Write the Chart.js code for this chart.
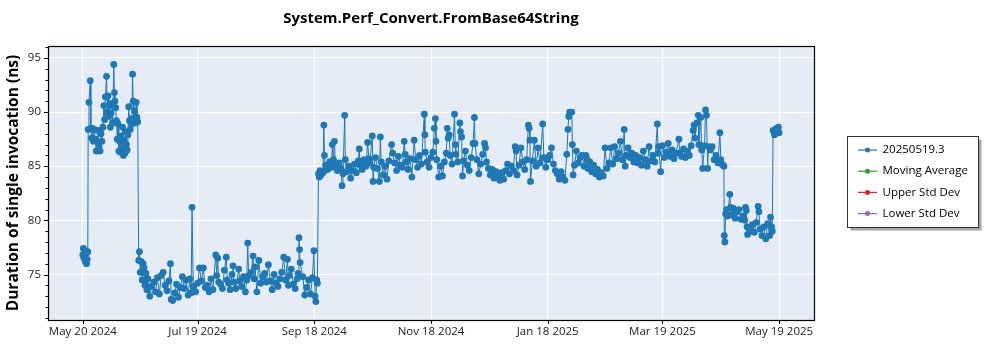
<!DOCTYPE html>
<html>
<head>
<meta charset="utf-8">
<script src="https://cdn.jsdelivr.net/npm/chart.js@4.4.0/dist/chart.umd.min.js"></script>
<style>
  body { margin: 0; background: #fff; }
</style>
</head>
<body>
<canvas id="perfChart" width="1000" height="350"></canvas>
<script>
// Run data: days since May 20 2024, and measured duration (ns)
const startDate = '2024-05-20';
const runDays = [
    // late May
    0, 0.3, 0.6, 1, 1.3, 1.6, 2, 2.3, 2.6,
    2.8, 3.2, 3.9, 4.2, 4.6, 5, 5.5, 6, 6.5, 7,
    7.5, 8, 8.5, 9, 9.5, 10, 10.5, 11, 11.4, 11.8,
    12.4, 12.8, 13.2, 13.6, 14, 14.4, 14.8, 15.2, 15.6, 16.2,
    16.5, 16.8, 17.2, 17.6, 18, 18.4, 18.8, 19.2, 19.6, 20,
    20.4, 20.8, 21.2, 21.6, 22, 22.4, 22.8, 23.2, 23.6, 24,
    24.4, 24.8, 25.2, 25.6, 26, 26.3, 26.7, 27.1, 27.5, 27.9,
    28.3, 28.7,
    // summer, low plateau
    29.2, 29.6, 30, 30.5, 31, 31.5, 32, 32.5, 33, 33.5,
    34, 35, 36, 37, 38, 39, 40, 41, 42, 43,
    44, 45, 45.8, 46.2, 47, 48, 49, 50, 51, 52,
    53, 54, 55, 56, 56.6, 57.1, 57.7, 59, 60, 61,
    62, 63, 64, 65, 66, 67, 68, 69.5, 70, 70.5,
    71, 72, 73, 74, 75, 75.5, 76.2, 77, 78, 78.5,
    79, 80, 81.5, 82, 83, 84, 85, 85.7, 86.2, 86.7,
    88, 89, 89.5, 90, 91, 92, 93, 94, 95, 96,
    97, 98, 99, 100, 101, 102, 103, 104, 105, 106,
    107, 107.5, 108, 109, 110, 111, 112, 112.5, 113, 113.3,
    113.6, 115, 116, 117, 118, 119, 120, 120.8, 121.4, 121.8,
    122.2, 122.6,
    // autumn to spring, high plateau
    123.2, 123.6, 124, 124.5, 125, 125.5, 126, 126.3, 126.6, 127,
    128, 129, 130, 130.4, 131, 131.5, 132, 133, 134, 135,
    135.5, 136, 136.9, 137.2, 138, 139, 140, 141, 142, 143,
    144, 144.5, 145, 146, 147, 148, 148.9, 149.5, 150, 151.3,
    151.7, 152, 153, 154, 155, 155.5, 156, 157, 158, 159,
    160, 161.4, 162, 163, 164, 165, 166, 167, 168, 168.5,
    169, 170, 171, 172, 173.2, 174, 175, 176, 177, 178.5,
    178.8, 179, 180, 181, 182, 183, 183.7, 184.3, 184.6, 185,
    186, 187, 188, 189, 190, 190.5, 191, 191.5, 192, 193,
    194.3, 194.7, 195, 196, 197.1, 197.4, 198, 198.5, 199, 200,
    201, 202, 203, 204, 204.7, 205, 206, 207, 208, 209,
    210, 210.5, 211, 212, 213, 214, 215, 216, 217, 218,
    219, 220, 221, 222, 223, 224, 225, 226, 226.5, 227,
    228, 229, 230, 231, 232, 232.9, 233.3, 233.7, 234, 235,
    236, 237, 238, 239, 240.4, 241, 242, 243, 244, 245,
    246, 247, 248, 249, 250, 251, 252, 253, 253.6, 254,
    254.5, 255.6, 255.9, 256.3, 257, 258, 259, 260, 261, 262,
    263, 263.6, 264, 265, 266, 267, 268, 269, 270, 271,
    272, 273, 274, 275, 276, 277, 278, 279, 280, 281,
    282, 283, 283.5, 284, 285, 286, 287, 288, 289, 290,
    291, 292, 293, 294, 295, 296, 297, 298, 299, 300.3,
    300.7, 301, 302, 303, 304, 305, 306, 307, 308, 309,
    310, 311.6, 312, 313, 314, 315, 316, 317, 318, 319,
    319.5, 320, 321, 321.7, 322, 323, 323.5, 324, 325, 325.5,
    326, 326.6, 327, 328, 329, 330, 331, 332, 333, 333.5,
    334, 334.6, 335.1,
    // late April to May 2025
    335.3, 335.6, 336, 336.5, 337, 338.2, 338.6, 339, 340, 341,
    342, 343, 344, 345, 346, 346.4, 346.8, 347.2, 347.5, 348,
    349, 350, 351, 352, 353, 353.4, 354, 355, 356, 357,
    358, 359, 359.5, 360, 360.4, 360.8, 361.5, 362, 362.5, 363,
    363.6, 364
];
const runValues = [
    76.8, 77.4, 76.5, 77.2, 76.2, 76.9, 76.0, 76.4, 77.1,
    88.4, 90.9, 92.9, 88.5, 87.6, 88.5, 87.3, 88.4, 87.5, 86.4,
    87.3, 88.3, 86.8, 86.4, 88.0, 87.3, 88.6, 90.6, 89.3, 91.4,
    93.3, 90.0, 91.5, 89.6, 90.6, 88.6, 89.9, 90.8, 89.0, 94.4,
    91.8, 91.0, 90.4, 89.2, 87.5, 88.9, 86.4, 87.3, 86.3, 87.8,
    86.6, 88.6, 86.0, 87.4, 86.2, 88.2, 87.0, 86.5, 87.9, 90.5,
    89.2, 88.4, 89.4, 88.9, 93.5, 91.0, 89.3, 90.1, 89.0, 90.9,
    89.5, 89.1,
    76.3, 77.1, 75.2, 76.2, 74.5, 76.0, 75.6, 74.0, 75.1, 73.6,
    74.6, 73.0, 73.9, 74.3, 73.4, 74.7, 73.2, 74.9, 75.2, 74.0,
    73.5, 74.4, 76.0, 72.7, 72.6, 73.3, 74.1, 72.9, 73.8, 74.8,
    73.7, 74.5, 73.1, 74.6, 73.3, 81.2, 73.9, 73.4, 74.2, 75.6,
    74.4, 75.6, 73.8, 74.0, 73.4, 74.6, 73.6, 76.8, 74.9, 76.5,
    74.3, 74.1, 73.7, 75.4, 76.6, 74.5, 74.2, 73.6, 75.0, 75.8,
    74.3, 73.7, 75.5, 74.4, 73.9, 74.8, 73.4, 74.5, 77.9, 74.9,
    75.2, 76.7, 74.6, 75.7, 73.4, 76.3, 74.2, 74.8, 75.1, 74.3,
    75.9, 74.4, 73.6, 75.0, 74.2, 73.9, 74.6, 75.2, 76.6, 74.5,
    76.4, 74.0, 74.9, 75.5, 74.1, 73.7, 74.6, 75.1, 78.4, 77.3,
    76.1, 74.8, 73.1, 73.8, 74.5, 73.2, 74.7, 77.2, 73.0, 72.5,
    74.5, 74.2,
    84.3, 84.0, 84.6, 84.2, 84.5, 84.4, 88.8, 86.0, 84.6, 85.1,
    84.7, 85.4, 84.9, 87.0, 85.6, 87.3, 85.0, 84.6, 85.3, 84.8,
    83.2, 84.3, 89.7, 85.6, 84.5, 85.0, 83.9, 84.6, 85.2, 84.4,
    85.5, 86.6, 85.1, 84.7, 85.6, 85.0, 87.2, 85.7, 85.3, 87.8,
    83.6, 84.9, 85.8, 84.8, 83.6, 87.7, 85.4, 84.2, 85.0, 83.8,
    85.5, 87.0, 86.2, 85.3, 84.6, 85.9, 85.1, 84.9, 87.3, 86.1,
    85.4, 84.7, 85.7, 84.0, 87.4, 85.6, 84.9, 86.0, 85.2, 89.8,
    87.9, 86.3, 85.4, 84.9, 85.8, 86.3, 88.5, 89.4, 87.3, 85.6,
    84.0, 85.0, 84.1, 85.4, 86.2, 88.5, 87.6, 87.9, 86.0, 85.2,
    89.8, 87.0, 86.1, 85.4, 89.0, 88.2, 87.7, 84.1, 85.5, 86.4,
    85.1, 84.6, 85.8, 87.1, 89.5, 87.1, 85.6, 84.3, 85.2, 86.1,
    87.1, 86.7, 85.4, 84.8, 84.2, 84.7, 83.9, 84.5, 84.1, 83.7,
    84.4, 83.8, 84.6, 85.2, 84.3, 85.0, 84.6, 86.8, 86.4, 84.2,
    85.1, 86.7, 85.4, 84.7, 85.6, 88.8, 88.5, 87.4, 83.6, 85.5,
    87.4, 85.0, 86.7, 85.3, 88.9, 85.8, 84.9, 85.6, 86.0, 86.7,
    85.2, 84.6, 84.3, 83.8, 84.5, 84.0, 83.7, 86.1, 88.4, 89.6,
    90.0, 90.0, 87.0, 84.2, 85.1, 86.4, 85.3, 85.8, 86.0, 85.0,
    86.0, 85.6, 84.8, 85.4, 84.5, 85.1, 84.3, 84.7, 84.0, 84.4,
    84.1, 86.7, 84.8, 85.3, 86.7, 85.2, 86.8, 85.7, 86.2, 87.3,
    85.6, 88.4, 85.0, 86.0, 86.7, 85.8, 86.2, 85.4, 86.0, 85.3,
    85.8, 85.1, 86.4, 85.6, 85.0, 86.8, 85.5, 86.0, 85.4, 88.9,
    86.2, 86.8, 84.5, 86.9, 85.8, 86.3, 87.1, 85.9, 86.5, 85.7,
    86.2, 87.5, 86.2, 85.9, 86.6, 85.8, 86.4, 86.0, 86.9, 88.3,
    88.8, 87.6, 89.0, 89.7, 87.0, 89.5, 86.5, 84.8, 86.9, 90.2,
    89.7, 84.8, 86.8, 86.5, 86.8, 85.6, 86.0, 85.3, 88.1, 85.6,
    85.2, 85.1, 85.0,
    78.6, 78.0, 80.6, 81.0, 80.4, 82.4, 81.2, 80.5, 81.1, 80.2,
    80.8, 81.0, 80.1, 80.4, 80.0, 81.2, 80.9, 79.4, 78.7, 79.3,
    79.0, 79.6, 78.9, 79.8, 81.3, 80.8, 79.2, 78.6, 79.4, 78.3,
    79.7, 78.6, 80.3, 79.4, 79.0, 88.3, 87.9, 88.0, 88.5, 88.2,
    88.6, 88.1
];

const tickDates = ['2024-05-20', '2024-07-19', '2024-09-18', '2024-11-18', '2025-01-18', '2025-03-19', '2025-05-19'];
const tickLabels = ['May 20 2024', 'Jul 19 2024', 'Sep 18 2024', 'Nov 18 2024', 'Jan 18 2025', 'Mar 19 2025', 'May 19 2025'];
const yTickValues = [75, 80, 85, 90, 95];
const seriesNames = ['20250519.3', 'Moving Average', 'Upper Std Dev', 'Lower Std Dev'];
const seriesColors = ['#1f77b4', '#2ca02c', '#d62728', '#9467bd'];

const chartTitle = 'System.Perf_Convert.FromBase64String';
const yAxisTitle = 'Duration of single invocation (ns)';
const FONT = "'Open Sans', sans-serif";

const toDay = s => (Date.parse(s) - Date.parse(startDate)) / 864e5;

// light blue plot background
const plotBackground = {
    id: 'plotBackground',
    beforeDraw(chart) {
        const { ctx, chartArea: a } = chart;
        ctx.save();
        ctx.fillStyle = '#e5ecf6';
        ctx.fillRect(a.left, a.top, a.right - a.left, a.bottom - a.top);
        ctx.restore();
    }
};

// black frame + tick marks (major and minor)
const frameAndTicks = {
    id: 'frameAndTicks',
    afterDraw(chart) {
        const { ctx, chartArea: a, scales } = chart;
        ctx.save();
        ctx.strokeStyle = '#000';
        ctx.lineWidth = 1;
        ctx.beginPath();
        const ys = scales.y;
        for (let v = Math.ceil(ys.min); v <= ys.max; v++) {
            const py = Math.round(ys.getPixelForValue(v)) + 0.5;
            const len = v % 5 === 0 ? 4 : 2.5;
            ctx.moveTo(a.left - len, py);
            ctx.lineTo(a.left, py);
        }
        scales.x.ticks.forEach(t => {
            const px = Math.round(scales.x.getPixelForValue(t.value)) + 0.5;
            ctx.moveTo(px, a.bottom);
            ctx.lineTo(px, a.bottom + 4);
        });
        ctx.stroke();
        ctx.lineWidth = 1.2;
        ctx.strokeRect(Math.round(a.left) + 0.5, Math.round(a.top) + 0.5, Math.round(a.right - a.left), Math.round(a.bottom - a.top));
        ctx.restore();
    }
};

const chartHeading = {
    id: 'chartHeading',
    afterDraw(chart) {
        const { ctx, chartArea: a } = chart;
        ctx.save();
        ctx.fillStyle = '#000';
        ctx.font = 'bold 15px ' + FONT;
        ctx.textAlign = 'center';
        ctx.textBaseline = 'middle';
        ctx.fillText(chartTitle, (a.left + a.right) / 2, 19);
        ctx.restore();
    }
};

// boxed legend with drop shadow, right of the plot
const boxedLegend = {
    id: 'boxedLegend',
    afterDraw(chart) {
        const { ctx } = chart;
        const x0 = 847.5, y0 = 136.5, w = 131, h = 91;
        ctx.save();
        ctx.fillStyle = '#a6a6a6';
        ctx.fillRect(x0 + 3, y0 + 3, w, h);
        ctx.fillStyle = '#fff';
        ctx.fillRect(x0, y0, w, h);
        ctx.strokeStyle = '#333';
        ctx.lineWidth = 1;
        ctx.strokeRect(x0, y0, w, h);
        ctx.font = '11.5px ' + FONT;
        ctx.textBaseline = 'middle';
        chart.data.datasets.forEach((ds, i) => {
            const cy = 150 + i * 21.2;
            ctx.strokeStyle = ds.borderColor;
            ctx.lineWidth = 1.2;
            ctx.beginPath();
            ctx.moveTo(858, cy);
            ctx.lineTo(877, cy);
            ctx.stroke();
            ctx.fillStyle = ds.pointBackgroundColor;
            ctx.beginPath();
            ctx.arc(867.5, cy, 2.5, 0, Math.PI * 2);
            ctx.fill();
            ctx.fillStyle = '#000';
            ctx.fillText(ds.label, 882.5, cy);
        });
        ctx.restore();
    }
};

const mainSeries = runDays.map((d, i) => ({ x: d, y: runValues[i] }));

const ctx = document.getElementById('perfChart').getContext('2d');
new Chart(ctx, {
    type: 'line',
    data: {
        datasets: seriesNames.map((name, i) => ({
            label: name,
            data: i === 0 ? mainSeries : [],
            borderColor: seriesColors[i],
            pointBackgroundColor: seriesColors[i],
            backgroundColor: seriesColors[i],
            borderWidth: 1,
            pointRadius: 3.4,
            pointBorderWidth: 0,
            tension: 0
        }))
    },
    options: {
        responsive: false,
        animation: false,
        layout: { padding: { left: 0, right: 186, top: 46, bottom: 0 } },
        plugins: {
            legend: { display: false },
            tooltip: { enabled: false },
            title: { display: false }
        },
        scales: {
            x: {
                type: 'linear',
                min: -18.2,
                max: 382.2,
                afterBuildTicks: scale => {
                    scale.ticks = tickDates.map(d => ({ value: toDay(d) }));
                },
                afterFit: scale => { scale.height = 30; },
                ticks: {
                    callback: (value, index) => tickLabels[index],
                    autoSkip: false,
                    maxRotation: 0,
                    padding: 5,
                    color: '#222',
                    font: { family: FONT, size: 11.5 }
                },
                grid: { color: '#fff', lineWidth: 1, drawTicks: false },
                border: { display: false }
            },
            y: {
                min: 70.8,
                max: 96.1,
                afterBuildTicks: scale => {
                    scale.ticks = yTickValues.map(v => ({ value: v }));
                },
                afterFit: scale => { scale.width = 48; },
                ticks: {
                    padding: 7,
                    color: '#222',
                    font: { family: FONT, size: 11.5 }
                },
                grid: { color: '#fff', lineWidth: 1, drawTicks: false },
                border: { display: false },
                title: {
                    display: true,
                    text: yAxisTitle,
                    color: '#000',
                    font: { family: FONT, size: 15.5, weight: 'bold' },
                    padding: { top: 4, bottom: 0 }
                }
            }
        }
    },
    plugins: [plotBackground, frameAndTicks, chartHeading, boxedLegend]
});
</script>
</body>
</html>
